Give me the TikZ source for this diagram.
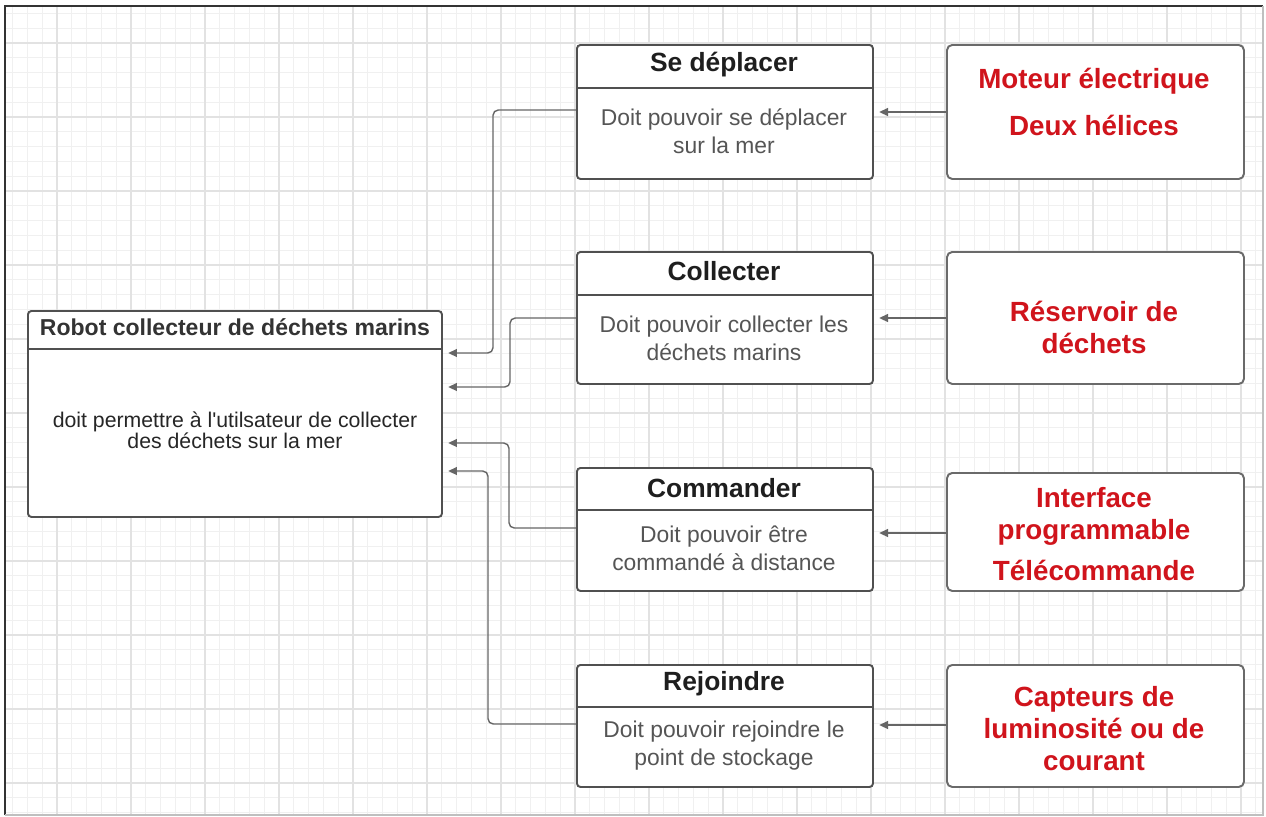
\documentclass[tikz,border=0pt]{standalone}
\usepackage{fontspec}
\setmainfont{Liberation Sans}
\usetikzlibrary{arrows.meta,calc}
\definecolor{boxline}{HTML}{505050}
\definecolor{rboxline}{HTML}{6A6A6A}
\definecolor{conncol}{HTML}{666666}
\definecolor{bodygray}{HTML}{555555}
\definecolor{titlecol}{HTML}{1E1E1E}
\definecolor{redtxt}{HTML}{D0141C}
\definecolor{gridminor}{HTML}{F0F0F0}
\definecolor{gridmajor}{HTML}{E2E2E2}
\tikzset{
  mbox/.style={draw=boxline, line width=1.1pt, rounded corners=2pt, fill=white, anchor=north west, inner sep=0pt, minimum width=296*0.02cm},
  rbox/.style={draw=rboxline, line width=1.1pt, rounded corners=3pt, fill=white, anchor=north west, inner sep=0pt, minimum width=297*0.02cm},
  sepline/.style={draw=boxline, line width=1.1pt},
  ttl/.style={font=\bfseries\fontsize{15}{18}\selectfont, text=titlecol, inner sep=0pt},
  bodytxt/.style={font=\fontsize{13}{15.9}\selectfont, text=bodygray, align=center, inner sep=0pt},
  redlbl/.style={font=\bfseries\fontsize{15.8}{18.2}\selectfont, text=redtxt, align=center, inner sep=0pt},
  conn/.style={draw=conncol, line width=0.8pt, rounded corners=3pt, -{Triangle[length=5pt,width=4.5pt]}, shorten >=3pt},
}
\begin{document}
\begin{tikzpicture}[x=0.02cm, y=-0.02cm]
\useasboundingbox (0,0) rectangle (1266,816);
\fill[white] (0,0) rectangle (1266,816);
% grid
\begin{scope}
\clip (6,7) rectangle (1262,814);
\foreach \i in {0,...,90} {
  \pgfmathsetmacro\xx{57+(\i-4)*14.8}
  \draw[gridminor, line width=0.45pt] (\xx,0) -- (\xx,816);
}
\foreach \j in {0,...,60} {
  \pgfmathsetmacro\yy{43+(\j-4)*14.8}
  \draw[gridminor, line width=0.45pt] (0,\yy) -- (1266,\yy);
}
\foreach \k in {-1,...,17} {
  \pgfmathsetmacro\xx{57+\k*74}
  \draw[gridmajor, line width=0.6pt] (\xx,0) -- (\xx,816);
}
\foreach \k in {-1,...,11} {
  \pgfmathsetmacro\yy{43+\k*74}
  \draw[gridmajor, line width=0.6pt] (0,\yy) -- (1266,\yy);
}
\end{scope}
% frame
\draw[black!80, line width=1.2pt] (5,815) -- (5,6) -- (1263,6);
\draw[black!25, line width=0.6pt] (1263,6) -- (1263,815) -- (5,815);

% main box
\node[mbox, minimum width=414*0.02cm, minimum height=206*0.02cm] (rob) at (27,310) {};
\draw[sepline] (rob.west |- 0,349) -- (rob.east |- 0,349);
\node[ttl, font=\bfseries\fontsize{13.1}{15}\selectfont, text=black!80] (robt) at (235,327) {Robot collecteur de déchets marins};
\node[bodytxt, font=\fontsize{12.1}{12}\selectfont, text=black!85] (robb) at (235,430) {doit permettre à l\textquotesingle utilsateur de collecter\\des déchets sur la mer};

% middle boxes
\node[mbox, minimum height=134*0.02cm] (dep) at (576,44) {};
\draw[sepline] (dep.west |- 0,88) -- (dep.east |- 0,88);
\node[ttl] (dept) at (724,65) {Se déplacer};
\node[bodytxt] (depb) at (724,131) {Doit pouvoir se déplacer\\sur la mer};

\node[mbox, minimum height=132*0.02cm] (col) at (576,251) {};
\draw[sepline] (col.west |- 0,295) -- (col.east |- 0,295);
\node[ttl] (colt) at (724,271) {Collecter};
\node[bodytxt] (colb) at (724,338) {Doit pouvoir collecter les\\déchets marins};

\node[mbox, minimum height=123*0.02cm] (com) at (576,467) {};
\draw[sepline] (com.west |- 0,510) -- (com.east |- 0,510);
\node[ttl] (comt) at (724,488) {Commander};
\node[bodytxt] (comb) at (724,548) {Doit pouvoir être\\commandé à distance};

\node[mbox, minimum height=122*0.02cm] (rej) at (576,664) {};
\draw[sepline] (rej.west |- 0,707) -- (rej.east |- 0,707);
\node[ttl] (rejt) at (724,684) {Rejoindre};
\node[bodytxt] (rejb) at (724,746) {Doit pouvoir rejoindre le\\point de stockage};

% right boxes
\node[rbox, minimum height=134*0.02cm] (r1) at (946,44) {};
\node[redlbl] (r1t) at (1094,102) {Moteur électrique\\[9pt]Deux hélices};
\node[rbox, minimum height=132*0.02cm] (r2) at (946,251) {};
\node[redlbl] (r2t) at (1094,327) {Réservoir de\\déchets};
\node[rbox, minimum height=118*0.02cm] (r3) at (946,472) {};
\node[redlbl] (r3t) at (1094,534) {Interface\\programmable\\[5pt]Télécommande};
\node[rbox, minimum height=122*0.02cm] (r4) at (946,664) {};
\node[redlbl] (r4t) at (1094,729) {Capteurs de\\luminosité ou de\\courant};

% connectors right -> middle
\draw[conn] (r1.west |- 0,112) -- (dep.east |- 0,112);
\draw[conn] (r2.west |- 0,318) -- (col.east |- 0,318);
\draw[conn] (r3.west |- 0,533) -- (com.east |- 0,533);
\draw[conn] (r4.west |- 0,725) -- (rej.east |- 0,725);

% connectors middle -> robot
\draw[conn] (dep.west |- 0,110) -- (493,110) -- (493,353) -- (rob.east |- 0,353);
\draw[conn] (col.west |- 0,318) -- (510,318) -- (510,387) -- (rob.east |- 0,387);
\draw[conn] (com.west |- 0,528) -- (509,528) -- (509,443) -- (rob.east |- 0,443);
\draw[conn] (rej.west |- 0,724) -- (488,724) -- (488,471) -- (rob.east |- 0,471);
\end{tikzpicture}
\end{document}
